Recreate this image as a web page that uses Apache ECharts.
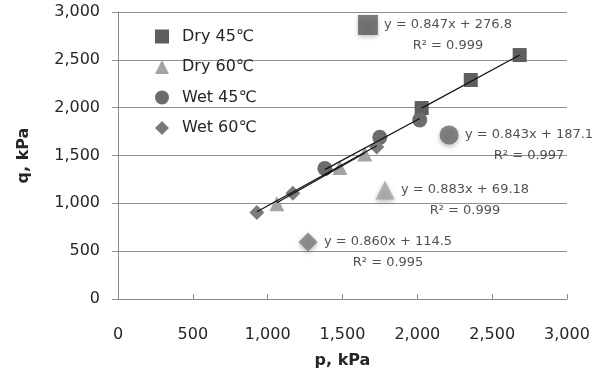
<!DOCTYPE html>
<html><head><meta charset="utf-8">
<script src="https://cdn.jsdelivr.net/npm/echarts@6/dist/echarts.min.js"></script>
<style>html,body{margin:0;padding:0;background:#fff}#c{width:602px;height:374px}</style>
</head><body><div id="c"></div>
<script>
// ---- data ----
const seriesNames = ['Dry 45\u2103', 'Dry 60\u2103', 'Wet 45\u2103', 'Wet 60\u2103'];
const dry45P = [2029, 2357, 2684];
const dry45Q = [1996, 2289, 2550];
const dry60P = [1061, 1482, 1649];
const dry60Q = [995, 1375, 1515];
const wet45P = [1382, 1749, 2016];
const wet45Q = [1365, 1690, 1872];
const wet60P = [928, 1168, 1729];
const wet60Q = [905, 1105, 1590];
const slopes = [0.847, 0.883, 0.843, 0.860];
const intercepts = [276.8, 69.18, 187.1, 114.5];
const r2Values = ['0.999', '0.999', '0.997', '0.995'];
const eqMarkerP = [1670, 1784, 2212, 1270];
const eqMarkerQ = [2864, 1139, 1714, 596];
const axisTicks = [0, 500, 1000, 1500, 2000, 2500, 3000];

// ---- styles ----
const symbols = ['rect', 'triangle', 'circle', 'diamond'];
const colors = ['#5e5e5e', '#a3a3a3', '#6c6c6c', '#7b7b7b'];
const sizes = [14, 15, 15, 15];
const eqSizes = [20, 19, 19, 19];
const FONT = 'DejaVu Sans';
const txt = '#262626';

const allP = [dry45P, dry60P, wet45P, wet60P];
const allQ = [dry45Q, dry60Q, wet45Q, wet60Q];
const fmt = v => v.toLocaleString('en-US');

const series = [];
seriesNames.forEach((name, i) => {
  series.push({
    name, type: 'scatter', symbol: symbols[i], symbolSize: sizes[i],
    itemStyle: { color: colors[i], opacity: 1 },
    data: allP[i].map((p, k) => [p, allQ[i][k]]), z: 3
  });
});
// trendlines from fitted coefficients
seriesNames.forEach((name, i) => {
  const lo = Math.min(...allP[i]), hi = Math.max(...allP[i]);
  series.push({
    type: 'line', silent: true, symbol: 'none', z: 5,
    lineStyle: { color: '#111', width: 1.2 },
    data: [[lo, slopes[i] * lo + intercepts[i]], [hi, slopes[i] * hi + intercepts[i]]]
  });
});
// equation annotations
seriesNames.forEach((name, i) => {
  const s = eqSizes[i];
  series.push({
    type: 'scatter', silent: true, symbol: symbols[i], symbolSize: s, z: 4,
    itemStyle: { color: colors[i], shadowBlur: 5, shadowColor: 'rgba(0,0,0,0.35)', shadowOffsetY: 2 },
    data: [[eqMarkerP[i], eqMarkerQ[i]]],
    label: {
      show: true, position: [s / 2 + 80, s / 2 - 11], align: 'center', verticalAlign: 'top',
      fontFamily: FONT, fontSize: 13, color: txt, lineHeight: 21,
      formatter: 'y = ' + slopes[i].toFixed(3) + 'x + ' + intercepts[i] + '\nR\u00b2 = ' + r2Values[i]
    }
  });
});

const chart = echarts.init(document.getElementById('c'), null, { renderer: 'canvas' });
chart.setOption({
  animation: false,
  backgroundColor: '#fff',
  grid: { left: 118, right: 35, top: 12, bottom: 75, containLabel: false },
  legend: {
    orient: 'vertical', left: 150, top: 23,
    itemWidth: 14, itemHeight: 14, itemGap: 13.5,
    data: seriesNames,
    textStyle: { fontFamily: FONT, fontSize: 16, color: txt, padding: [0, 0, 0, 8], lineHeight: 17 }
  },
  xAxis: {
    type: 'value', min: axisTicks[0], max: axisTicks[axisTicks.length - 1], interval: 500,
    name: 'p, kPa', nameLocation: 'middle', nameGap: 54,
    nameTextStyle: { fontFamily: FONT, fontSize: 16, fontWeight: 'bold', color: txt },
    axisLine: { show: true, lineStyle: { color: '#8a8a8a', width: 1 } },
    axisTick: { show: true, inside: true, length: 5, lineStyle: { color: '#8a8a8a' } },
    axisLabel: { margin: 28, fontFamily: FONT, fontSize: 16, color: txt, formatter: fmt },
    splitLine: { show: false }
  },
  yAxis: {
    type: 'value', min: axisTicks[0], max: axisTicks[axisTicks.length - 1], interval: 500,
    name: 'q, kPa', nameLocation: 'middle', nameGap: 86,
    nameTextStyle: { fontFamily: FONT, fontSize: 16, fontWeight: 'bold', color: txt },
    axisLine: { show: true, lineStyle: { color: '#8a8a8a', width: 1 } },
    axisTick: { show: true, inside: false, length: 6, lineStyle: { color: '#909090' } },
    axisLabel: { margin: 18, fontFamily: FONT, fontSize: 16, color: txt, formatter: fmt },
    splitLine: { show: true, lineStyle: { color: '#909090', width: 1 } }
  },
  series
});
</script></body></html>
